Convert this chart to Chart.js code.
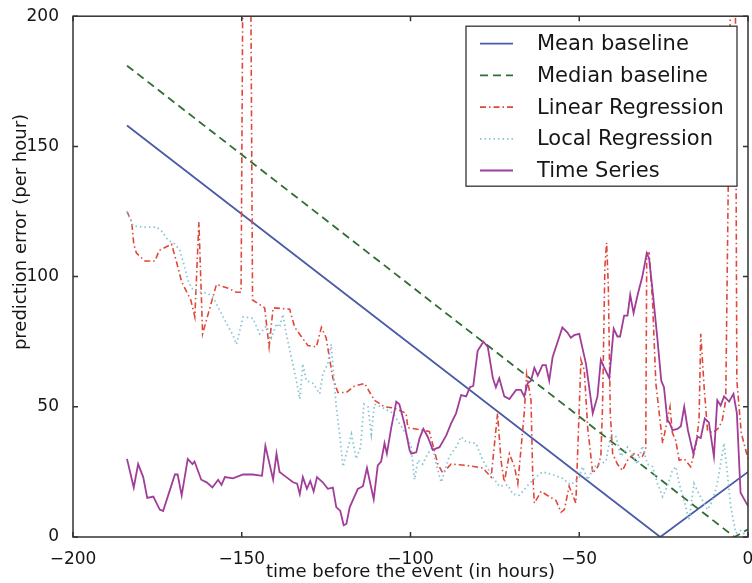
<!DOCTYPE html>
<html>
<head>
<meta charset="utf-8">
<script src="https://cdn.jsdelivr.net/npm/chart.js@4"></script>
<style>
  html, body { margin: 0; padding: 0; background: #fff; }
  canvas { display: block; }
</style>
</head>
<body>
<canvas id="grafico" width="752" height="583"></canvas>
<script>
// axis ticks
const xTicks = [-200, -150, -100, -50, 0]
const yTicks = [0, 50, 100, 150, 200]

const seriesNames = ['Mean baseline', 'Median baseline', 'Linear Regression', 'Local Regression', 'Time Series']

// baselines: just the corner points of each line
const meanHours = [-184, -26, 0]
const meanErr = [158, 0, 25]

const medianHours = [-184, -4, 0]
const medianErr = [181, 0, 3]

// linear regression
const linHours = [-184, -182.6, -182, -181.2, -178.7, -175.7, -174.5, -170.8, -169.3, -167.8, -165.1, -163.9, -162.7, -161.6,
  -157.5, -154, -151.6, -150.2, -149.6, -147.4, -146.8, -143.2, -141.9, -140.7, -135.8, -134.3, -130.4, -127.9, -126.4,
  -125, -123, -121.5, -119, -116.6, -113.6, -110.7, -107.7, -104.7, -101.3, -100.8, -96.4, -94.4, -91.9, -90.4, -88,
  -83.5, -78.6, -76.1, -74.2, -73.2, -72.2, -70.7, -69.2, -68.2, -66.3, -65.6, -64.3, -63.8, -63.3, -61.3, -58.9,
  -56.9, -55.4, -54.4, -53, -51, -49.5, -48.5, -47.5, -46, -44.5, -43.6, -43.1, -42.4, -41.9, -41.4, -40.8, -40.1,
  -38.7, -37.2, -35.7, -33.7, -31.3, -30.3, -30, -29.3, -28.3, -27.3, -25.3, -23.1, -22.4, -21.4, -20.4, -18.9, -17,
  -15.5, -14.5, -14, -13, -12, -10.5, -8.6, -7.6, -6.6, -5.9, -5, -3.8, -3.3, -2, 0]
const linErr = [125, 121, 112.5, 109, 106, 106, 110, 112.5, 105.5, 98, 91, 84.5, 121, 78,
  97, 95.5, 94, 94, 230, 230, 91, 88, 73, 88, 87.5, 80.5, 73.5, 73, 80.5,
  76.5, 61, 55.5, 55.5, 58, 59, 52.5, 50, 49.5, 47.5, 42, 41, 40.5, 28, 24.5, 28,
  27.5, 26.5, 23, 47.5, 29.5, 21, 32, 27, 20.5, 47.5, 62.5, 52.5, 24.5, 13, 17.5, 15.5,
  14, 9.5, 10.5, 19.5, 13, 68, 64, 42, 24.5, 27, 31, 50, 104, 113, 97, 47.5, 32,
  28, 25.5, 29.5, 32, 31, 33.5, 109, 109, 91, 59, 36, 50, 40, 37, 29.5, 30, 27,
  34.5, 45, 78, 57.5, 41, 40, 42, 45, 52.5, 130, 230, 230, 60, 40, 30]

// local regression
const locHours = [-184, -182.2, -179.2, -175.2, -173.8, -171.8, -169.8, -168.3, -166.9, -165.9, -164.9, -162.4, -160,
  -158.5, -156.5, -154.5, -152.6, -151.6, -149.6, -146.7, -144.7, -142.7, -141.2, -139.7, -138.8, -137.8, -136.8,
  -135.3, -133.8, -132.8, -131.9, -130.9, -128.9, -126.9, -126, -124.5, -123.5, -122, -121, -120, -119, -117.5,
  -116.1, -114.8, -113.8, -112.6, -111.6, -110.7, -108.7, -105.2, -101.3, -99.8, -98.8, -97.8, -96.4, -94.9, -93.4,
  -92.4, -90.9, -88.5, -86.5, -85, -83.5, -80.6, -78.6, -75.6, -73.7, -71.2, -69.7, -67.8, -64.8, -62.8, -60.9,
  -57.9, -55, -52.5, -50, -49, -47.5, -45.6, -42.1, -40.6, -39.1, -37.7, -35.7, -34.2, -32.7, -31.3, -29.8, -28.3,
  -26.8, -25.3, -23.9, -22.4, -21.4, -20.4, -18.9, -17.5, -16, -14.5, -12, -10.5, -9.1, -7.1, -6.1, -5.1, -3.6,
  -2.2, -1]
const locErr = [125, 119.5, 119, 119, 117.5, 114, 112.5, 110, 103.5, 98.5, 95.5, 94, 93.5,
  92, 87, 82, 77.5, 74, 84.5, 84, 78, 81, 76.5, 82, 80.5, 85.5, 78,
  69, 60, 53, 66.5, 60, 59, 55, 62.5, 66.5, 74, 50, 39.5, 27, 32, 39.5,
  30, 34.5, 51, 50, 39.5, 51, 50, 47.5, 39.5, 34.5, 22, 29.5, 28, 32, 34.5,
  28, 21, 31, 34.5, 38.5, 36.5, 36, 29.5, 23, 19.5, 20, 16.5, 16, 20.5, 23, 25,
  24, 22.5, 20, 23, 27, 22, 27, 29, 39.5, 38.5, 31, 34.5, 31.5, 28, 35, 28, 27,
  20.5, 15.5, 19.5, 25.5, 27, 20.5, 14, 6.5, 20.5, 16.5, 10.5, 14, 20.5, 36, 24.5, 11.5, 1.5,
  2.5, 1]

// time series model
const tsHours = [-184, -182, -180.7, -179.2, -178, -176.2, -174.3, -173.3, -171.3, -169.8, -169, -167.8, -166,
  -164.6, -164, -162, -160.4, -158.7, -157, -156, -155, -152.6, -149.6, -146.7, -144, -143, -140.7, -139.7,
  -138.8, -136.8, -134.8, -133.6, -132.8, -131.9, -130.7, -129.7, -128.7, -127.7, -126, -124.5, -123, -122,
  -120.8, -119.8, -119, -118, -115.6, -114.1, -112.9, -110.9, -109.7, -108.7, -107.7, -107, -105.7, -104.2,
  -103.3, -101.8, -100.3, -99.8, -98.3, -97.3, -96.2, -94.9, -93.4, -91.4, -89.4, -88, -86.5, -85, -83.5,
  -82.4, -81.4, -80.1, -78.4, -77.1, -75.6, -74.7, -73.7, -72.2, -70.7, -68.7, -67.3, -66.3, -65.3, -64.3,
  -63.3, -62.3, -60.9, -59.9, -58.9, -57.9, -55, -53.5, -52.5, -51.5, -50, -48, -46, -44.6, -43.6, -42.6,
  -41.1, -39.8, -38.7, -37.9, -36.7, -35.7, -34.9, -33.9, -32.7, -31.3, -30, -29.3, -28.3, -26.8, -25.7,
  -24.9, -23.9, -23.1, -22.4, -20.9, -19.9, -18.9, -17.8, -16.2, -15, -14, -12.8, -11.6, -10.1, -9.1, -8.1,
  -7.1, -5.6, -4.3, -3.3, -2.2, -0.7, 0]
const tsErr = [30, 19, 28, 23, 15, 15.5, 10.5, 10, 18, 24, 24, 16, 30,
  28, 29, 22, 21, 19, 22, 20, 23, 22.5, 24, 24, 23.5, 35, 22, 32,
  25, 23, 21, 20.5, 16.5, 23, 18.5, 21.5, 17.5, 23, 21, 18.5, 19, 11.5,
  10, 4.5, 5, 11.5, 18.5, 19.5, 26.5, 14.5, 27.5, 29, 36, 32, 42, 52,
  51, 43.5, 33.5, 32, 32.5, 38, 41.5, 38.5, 33.5, 34.5, 39, 43.5, 47.5, 54.5, 54,
  57.5, 58, 71.5, 75, 73, 61, 57.5, 61, 54, 53, 56.5, 56.5, 54, 59, 60,
  65, 62, 66, 66, 60, 69, 80.5, 78.5, 76.5, 77.5, 78, 66.5, 47.5, 54, 68, 65,
  61, 80, 77, 77, 85, 85, 93, 86, 93, 100, 109, 107, 95, 75.5, 60,
  57.5, 45, 43.5, 41, 41.5, 42.5, 50, 41, 32, 38.5, 38, 45.5, 44, 31, 52.5, 50.5,
  54, 52, 55, 47.5, 17, 13.5, 12]

const pts = (xs, ys) => xs.map((x, i) => ({ x: x, y: ys[i] }))
const minus = v => String(v).replace('-', '\u2212')

const fonte = 'DejaVu Sans'
const corTexto = '#161616'
const corEixo = '#333'

const datasets = [
  { label: seriesNames[0], data: pts(meanHours, meanErr), borderColor: '#4a5ca8', borderWidth: 1.8, borderDash: [], order: 5 },
  { label: seriesNames[1], data: pts(medianHours, medianErr), borderColor: '#2f6f35', borderWidth: 1.8, borderDash: [8, 5], order: 4 },
  { label: seriesNames[2], data: pts(linHours, linErr), borderColor: '#e0473a', borderWidth: 1.6, borderDash: [6, 3, 1.5, 3], order: 3 },
  { label: seriesNames[3], data: pts(locHours, locErr), borderColor: '#86c5d3', borderWidth: 1.8, borderDash: [1.5, 3], order: 2 },
  { label: seriesNames[4], data: pts(tsHours, tsErr), borderColor: '#a03d98', borderWidth: 1.8, borderDash: [], order: 1 }
]

// box around the plot with inward ticks on all four sides, the y title and the legend
const moldura = {
  id: 'moldura',
  afterDatasetsDraw(chart) {
    const ctx = chart.ctx
    const a = chart.chartArea
    const xs = chart.scales.x
    const ys = chart.scales.y
    const tl = 5

    ctx.save()
    ctx.strokeStyle = corEixo
    ctx.lineWidth = 1.5
    ctx.setLineDash([])
    ctx.strokeRect(a.left, a.top, a.right - a.left, a.bottom - a.top)
    ctx.beginPath()
    xTicks.forEach(v => {
      const px = xs.getPixelForValue(v)
      ctx.moveTo(px, a.bottom); ctx.lineTo(px, a.bottom - tl)
      ctx.moveTo(px, a.top); ctx.lineTo(px, a.top + tl)
    })
    yTicks.forEach(v => {
      const py = ys.getPixelForValue(v)
      ctx.moveTo(a.left, py); ctx.lineTo(a.left + tl, py)
      ctx.moveTo(a.right, py); ctx.lineTo(a.right - tl, py)
    })
    ctx.stroke()

    // y axis title
    ctx.fillStyle = corTexto
    ctx.font = '18px "' + fonte + '"'
    ctx.textAlign = 'center'
    ctx.textBaseline = 'middle'
    ctx.translate(21, 232)
    ctx.rotate(-Math.PI / 2)
    ctx.fillText('prediction error (per hour)', 0, 0)
    ctx.restore()

    // legend
    const lx = a.right - 282
    const ly = a.top + 10
    const lw = 271
    const lh = 160
    ctx.save()
    ctx.fillStyle = '#fff'
    ctx.fillRect(lx, ly, lw, lh)
    ctx.strokeStyle = corEixo
    ctx.lineWidth = 1.3
    ctx.strokeRect(lx, ly, lw, lh)
    ctx.font = '21px "' + fonte + '"'
    ctx.textAlign = 'left'
    ctx.textBaseline = 'middle'
    chart.data.datasets.forEach((ds, i) => {
      const y = ly + 17.5 + i * 31.7
      ctx.beginPath()
      ctx.strokeStyle = ds.borderColor
      ctx.lineWidth = ds.borderWidth
      ctx.setLineDash(ds.borderDash)
      ctx.moveTo(lx + 14, y)
      ctx.lineTo(lx + 47, y)
      ctx.stroke()
      ctx.setLineDash([])
      ctx.fillStyle = corTexto
      ctx.fillText(ds.label, lx + 71, y + 1)
    })
    ctx.restore()
  }
}

new Chart(document.querySelector('#grafico'), {
  type: 'line',
  data: { datasets: datasets },
  options: {
    responsive: false,
    animation: false,
    devicePixelRatio: 1,
    layout: { padding: { top: 15, right: 4, left: 0, bottom: 0 } },
    elements: {
      point: { radius: 0 },
      line: { tension: 0, fill: false, borderCapStyle: 'butt' }
    },
    plugins: {
      legend: { display: false },
      tooltip: { enabled: false }
    },
    scales: {
      x: {
        type: 'linear',
        min: -200,
        max: 0,
        afterBuildTicks: s => { s.ticks = xTicks.map(v => ({ value: v })) },
        afterFit: s => { s.height = 46; s.paddingLeft = 0; s.paddingRight = 0 },
        grid: { display: false },
        border: { display: false },
        ticks: {
          padding: 4,
          maxRotation: 0,
          color: corTexto,
          font: { family: fonte, size: 17 },
          callback: v => minus(v)
        },
        title: {
          display: true,
          text: 'time before the event (in hours)',
          color: corTexto,
          font: { family: fonte, size: 18 },
          padding: { top: 0, bottom: 0 }
        }
      },
      y: {
        min: 0,
        max: 200,
        afterBuildTicks: s => { s.ticks = yTicks.map(v => ({ value: v })) },
        afterFit: s => { s.width = 73 },
        grid: { display: false },
        border: { display: false },
        ticks: {
          padding: 6,
          color: corTexto,
          font: { family: fonte, size: 17 },
          callback: v => minus(v)
        }
      }
    }
  },
  plugins: [moldura]
})
</script>
</body>
</html>
